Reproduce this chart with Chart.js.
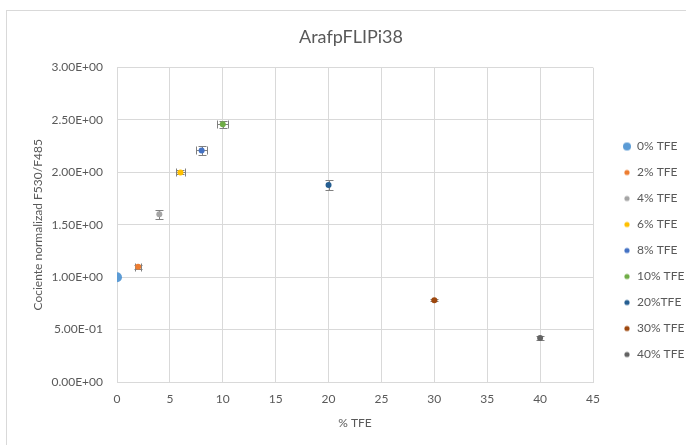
<!DOCTYPE html>
<html>
<head>
<meta charset="utf-8">
<script src="https://cdn.jsdelivr.net/npm/chart.js@4"></script>
<style>
  html, body { margin: 0; padding: 0; background: #fff; }
  #wrap { width: 686px; height: 445px; position: relative; }
</style>
</head>
<body>
<div id="wrap"><canvas id="chart" width="686" height="445"></canvas></div>
<script>
// Series: one point per TFE concentration
const seriesNames = ['0% TFE', '2% TFE', '4% TFE', '6% TFE', '8% TFE', '10% TFE', '20%TFE', '30% TFE', '40% TFE'];
const tfeValues = [0, 2, 4, 6, 8, 10, 20, 30, 40];
const ratioValues = [1.00, 1.10, 1.60, 2.00, 2.21, 2.46, 1.88, 0.78, 0.42];
// error bar half-widths (ratio in y, % TFE in x)
const ratioErrors = [0, 0.02, 0.045, 0.02, 0.045, 0.035, 0.045, 0.01, 0.015];
const tfeErrors = [0, 0.3, 0, 0.4, 0.5, 0.5, 0, 0, 0];
const seriesColors = ['#5B9BD5', '#ED7D31', '#A5A5A5', '#FFC000', '#4472C4', '#70AD47', '#255E91', '#9E480E', '#636363'];
const markerRadii = [5, 3, 3, 3, 3, 3, 3, 3, 3];
const legendRadii = [4, 2.6, 2.6, 2.6, 2.6, 2.6, 2.6, 2.6, 2.6];

const FONT = 'Lato, "Open Sans", sans-serif';
const TEXT = '#595959';
const GRID = '#D9D9D9';

// Excel-style scientific labels: 2.50E+00, 5.00E-01
function sciLabel(v) {
  const [m, e] = Number(v).toExponential(2).split('e');
  const n = parseInt(e, 10);
  return m + 'E' + (n < 0 ? '-' : '+') + String(Math.abs(n)).padStart(2, '0');
}

function circleImage(r, color) {
  const size = Math.ceil(r * 2 + 2);
  const c = document.createElement('canvas');
  c.width = size; c.height = size;
  const g = c.getContext('2d');
  g.fillStyle = color;
  g.beginPath();
  g.arc(size / 2, size / 2, r, 0, Math.PI * 2);
  g.fill();
  return c;
}

const datasets = seriesNames.map((name, i) => ({
  label: name,
  data: [{ x: tfeValues[i], y: ratioValues[i] }],
  backgroundColor: seriesColors[i],
  borderColor: seriesColors[i],
  pointRadius: markerRadii[i],
  pointHoverRadius: markerRadii[i],
  pointBorderWidth: 0
}));

// chart frame and white background
const framePlugin = {
  id: 'frame',
  beforeDraw(chart) {
    const ctx = chart.ctx;
    ctx.save();
    ctx.fillStyle = '#fff';
    ctx.fillRect(0, 0, chart.width, chart.height);
    ctx.strokeStyle = GRID;
    ctx.lineWidth = 1;
    ctx.strokeRect(6.5, 10.5, chart.width + 20, chart.height + 20);
    ctx.restore();
  }
};

// vertical and horizontal error bars with caps
const errorBarPlugin = {
  id: 'errorBars',
  beforeDatasetsDraw(chart) {
    const ctx = chart.ctx;
    const xs = chart.scales.x, ys = chart.scales.y;
    ctx.save();
    ctx.strokeStyle = '#808080';
    ctx.lineWidth = 1;
    datasets.forEach((ds, i) => {
      const px = Math.round(xs.getPixelForValue(tfeValues[i])) + 0.5;
      const py = Math.round(ys.getPixelForValue(ratioValues[i])) + 0.5;
      const cap = 4;
      if (ratioErrors[i] > 0) {
        const y1 = Math.round(ys.getPixelForValue(ratioValues[i] + ratioErrors[i])) + 0.5;
        const y2 = Math.round(ys.getPixelForValue(ratioValues[i] - ratioErrors[i])) + 0.5;
        ctx.beginPath();
        ctx.moveTo(px, y1); ctx.lineTo(px, y2);
        ctx.moveTo(px - cap, y1); ctx.lineTo(px + cap, y1);
        ctx.moveTo(px - cap, y2); ctx.lineTo(px + cap, y2);
        ctx.stroke();
      }
      if (tfeErrors[i] > 0) {
        const x1 = Math.round(xs.getPixelForValue(tfeValues[i] - tfeErrors[i])) + 0.5;
        const x2 = Math.round(xs.getPixelForValue(tfeValues[i] + tfeErrors[i])) + 0.5;
        ctx.beginPath();
        ctx.moveTo(x1, py); ctx.lineTo(x2, py);
        ctx.moveTo(x1, py - cap); ctx.lineTo(x1, py + cap);
        ctx.moveTo(x2, py - cap); ctx.lineTo(x2, py + cap);
        ctx.stroke();
      }
    });
    ctx.restore();
  }
};

// nudge the legend block towards the right edge and down
const legendOffsetPlugin = {
  id: 'legendOffset',
  afterLayout(chart, args, opts) {
    const lg = chart.legend;
    if (!lg) return;
    lg.left += opts.dx; lg.right += opts.dx;
    lg.top += opts.dy; lg.bottom += opts.dy;
  }
};

new Chart(document.getElementById('chart'), {
  type: 'scatter',
  data: { datasets },
  plugins: [framePlugin, errorBarPlugin, legendOffsetPlugin],
  options: {
    responsive: false,
    animation: false,
    devicePixelRatio: 1,
    layout: { padding: { left: 24, right: 8, top: 0, bottom: 0 } },
    plugins: {
      tooltip: { enabled: false },
      legendOffset: { dx: 16, dy: 28 },
      title: {
        display: true,
        text: 'ArafpFLIPi38',
        color: TEXT,
        font: { family: FONT, size: 18, weight: 'normal' },
        padding: { top: 26, bottom: 20 }
      },
      legend: {
        position: 'right',
        maxWidth: 85,
        labels: {
          usePointStyle: true,
          boxWidth: 8,
          padding: 14,
          color: TEXT,
          font: { family: FONT, size: 12 },
          generateLabels(chart) {
            return chart.data.datasets.map((ds, i) => ({
              text: ds.label,
              fillStyle: seriesColors[i],
              strokeStyle: seriesColors[i],
              lineWidth: 0,
              pointStyle: circleImage(legendRadii[i], seriesColors[i]),
              fontColor: TEXT,
              hidden: false,
              datasetIndex: i
            }));
          }
        }
      }
    },
    scales: {
      x: {
        type: 'linear',
        min: 0, max: 45,
        afterFit(s) { s.height = 63; },
        ticks: { stepSize: 5, color: TEXT, font: { family: FONT, size: 12 }, padding: 10 },
        grid: { color: GRID, drawTicks: false },
        border: { color: GRID },
        title: {
          display: true, text: '% TFE', color: TEXT,
          font: { family: FONT, size: 12 },
          padding: { top: 0, bottom: 15 }
        }
      },
      y: {
        type: 'linear',
        min: 0, max: 3,
        afterFit(s) { s.width = 93; },
        ticks: { stepSize: 0.5, color: TEXT, font: { family: FONT, size: 12 }, padding: 14, callback: v => sciLabel(v) },
        grid: { color: GRID, drawTicks: false },
        border: { color: GRID },
        title: {
          display: true, text: 'Cociente normalizad F530/F485', color: TEXT,
          font: { family: FONT, size: 12 },
          padding: { top: 7, bottom: 0 }
        }
      }
    }
  }
});
</script>
</body>
</html>
